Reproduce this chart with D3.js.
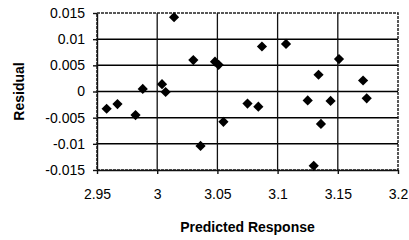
<!DOCTYPE html>
<html>
<head>
<meta charset="utf-8">
<script src="https://cdn.jsdelivr.net/npm/d3@7"></script>
<style>
  body { margin: 0; background: #fff; }
  text { font-family: "Liberation Sans", Arial, sans-serif; fill: #000; }
</style>
</head>
<body>
<script>
// predicted response (x) and residual (y)
var predicted = [2.958, 2.967, 2.982, 2.988, 3.004, 3.007, 3.014, 3.030, 3.036, 3.048, 3.051,
                 3.055, 3.075, 3.084, 3.087, 3.107, 3.125, 3.130, 3.134, 3.136, 3.144, 3.151,
                 3.171, 3.174];
var residual  = [-0.0033, -0.0024, -0.0045, 0.0005, 0.0014, -0.0001, 0.0142, 0.0060, -0.0104, 0.0057, 0.0051,
                 -0.0058, -0.0023, -0.0029, 0.0086, 0.0091, -0.0017, -0.0142, 0.0032, -0.0062, -0.0018, 0.0062,
                 0.0021, -0.0013];
var xTicks = [2.95, 3, 3.05, 3.1, 3.15, 3.2];
var yTicks = [-0.015, -0.01, -0.005, 0, 0.005, 0.01, 0.015];

var W = 409, H = 240;
var margin = {top: 13, right: 11, bottom: 70, left: 97};
var width = W - margin.left - margin.right,
    height = H - margin.top - margin.bottom;

var svg = d3.select("body").append("svg")
    .attr("width", W)
    .attr("height", H);

var g = svg.append("g")
    .attr("transform", "translate(" + margin.left + "," + margin.top + ")");

var x = d3.scaleLinear().domain([2.95, 3.2]).range([0, width]);
var y = d3.scaleLinear().domain([-0.015, 0.015]).range([height, 0]);

// gridlines
g.selectAll(".hgrid").data(yTicks.slice(1, -1)).enter().append("line")
    .attr("x1", 0).attr("x2", width)
    .attr("y1", d => y(d)).attr("y2", d => y(d))
    .attr("stroke", "#000").attr("stroke-width", 1.5);
g.selectAll(".vgrid").data(xTicks.slice(1, -1)).enter().append("line")
    .attr("y1", 0).attr("y2", height)
    .attr("x1", d => x(d)).attr("x2", d => x(d))
    .attr("stroke", "#111").attr("stroke-width", 1.3);

// frame (scanned look)
g.append("rect")
    .attr("width", width).attr("height", height)
    .attr("fill", "none").attr("stroke", "#222")
    .attr("stroke-width", 1.5).attr("stroke-dasharray", "3,1");

// axes
var xAxis = g.append("g")
    .attr("transform", "translate(0," + height + ")")
    .call(d3.axisBottom(x).tickValues(xTicks).tickSize(4).tickSizeOuter(0)
        .tickFormat(d => String(d)));
var yAxis = g.append("g")
    .call(d3.axisLeft(y).tickValues(yTicks).tickSize(4).tickSizeOuter(0)
        .tickFormat(d => String(d)));

[xAxis, yAxis].forEach(a => {
    a.select(".domain").attr("stroke", "#111").attr("stroke-width", 1.4);
    a.selectAll(".tick line").attr("stroke", "#111").attr("stroke-width", 1.4);
    a.selectAll("text").style("font-size", "14px").style("font-family", "Liberation Sans, Arial, sans-serif");
});
xAxis.selectAll("text").attr("y", 19);
yAxis.selectAll("text").attr("x", -12);

// points
var pts = predicted.map((p, i) => ({x: p, y: residual[i]}));
var diamond = d3.symbol().type(d3.symbolSquare).size(52);
g.selectAll(".dot").data(pts).enter().append("path")
    .attr("class", "dot")
    .attr("d", diamond)
    .attr("transform", d => "translate(" + x(d.x) + "," + y(d.y) + ") rotate(45)")
    .attr("fill", "#000");

// axis titles
svg.append("text")
    .attr("x", margin.left + width / 2)
    .attr("y", 232)
    .attr("text-anchor", "middle")
    .style("font-size", "14px").style("font-weight", "bold")
    .text("Predicted Response");

svg.append("text")
    .attr("transform", "translate(24," + (margin.top + height / 2) + ") rotate(-90)")
    .attr("text-anchor", "middle")
    .style("font-size", "14px").style("font-weight", "bold")
    .text("Residual");
</script>
</body>
</html>
